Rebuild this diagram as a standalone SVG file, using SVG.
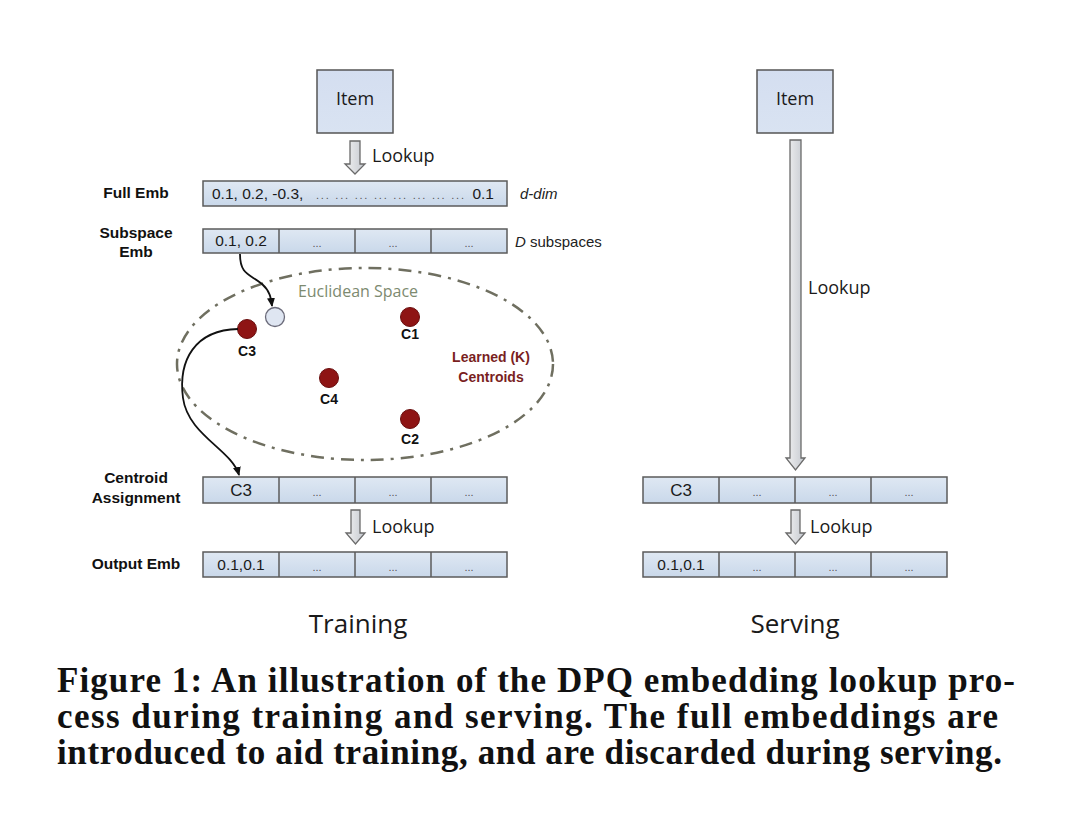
<svg xmlns="http://www.w3.org/2000/svg" width="1080" height="826" viewBox="0 0 1080 826">
<defs>
<linearGradient id="barG" x1="0" y1="0" x2="0" y2="1"><stop offset="0" stop-color="#dfe8f3"/><stop offset="1" stop-color="#c9d8ea"/></linearGradient>
<linearGradient id="itemG" x1="0" y1="0" x2="0" y2="1"><stop offset="0" stop-color="#d4def0"/><stop offset="1" stop-color="#d9e3f2"/></linearGradient>
<linearGradient id="arrG" x1="0" y1="0" x2="1" y2="0"><stop offset="0" stop-color="#f2f2f2"/><stop offset="1" stop-color="#c4c8cf"/></linearGradient>
<marker id="ah" markerWidth="10" markerHeight="10" refX="8" refY="5" orient="auto" markerUnits="userSpaceOnUse"><path d="M0,1 L9,5 L0,9 Z" fill="#111"/></marker>
<style>
.bar{fill:url(#barG);stroke:#5b5b5b;stroke-width:1.5}
.item{fill:url(#itemG);stroke:#555;stroke-width:1.5}
.blk{fill:url(#arrG);stroke:#6a6a6a;stroke-width:1.3}
.lbl{font-family:"Liberation Sans",Arial,sans-serif;font-weight:bold;font-size:15.5px;fill:#111;text-anchor:middle}
.val{font-family:"Liberation Sans",Arial,sans-serif;font-size:15.5px;fill:#1a1a1a}
.dots{font-family:"Liberation Sans",Arial,sans-serif;font-size:11px;fill:#555;text-anchor:middle}
.cal{font-family:"Open Sans","Liberation Sans",sans-serif;fill:#1a1a1a}
.cl{font-family:"Liberation Sans",Arial,sans-serif;font-weight:bold;font-size:14px;fill:#111;text-anchor:middle}
.dot{fill:#8e1414;stroke:#6a0e0e;stroke-width:1}
.cap{font-family:"Liberation Serif","Times New Roman",serif;font-weight:bold;font-size:35px;fill:#111}
</style>
</defs>
<rect width="1080" height="826" fill="#ffffff"/>

<!-- Training column -->
<g id="item-train">
<rect class="item" x="317" y="70" width="76" height="63"/>
<text class="cal" x="355" y="105" font-size="18" text-anchor="middle">Item</text>
</g>

<g id="full-emb">
<text class="lbl" x="136" y="198">Full Emb</text>
<rect class="bar" x="203" y="181" width="304" height="25"/>
<text class="val" x="212" y="199">0.1, 0.2, -0.3,</text>
<text class="dots" x="390" y="199" textLength="148" lengthAdjust="spacing">... ... ... ... ... ... ... ...</text>
<text class="val" x="494" y="199" text-anchor="end">0.1</text>
<text x="520" y="199" font-family="Liberation Sans, Arial, sans-serif" font-size="15" font-style="italic" fill="#222">d-dim</text>
</g>

<g id="subspace-emb">
<text class="lbl" x="136" y="238">Subspace</text>
<text class="lbl" x="136" y="257">Emb</text>
<rect class="bar" x="203" y="229" width="304" height="24"/>
<line x1="279" y1="229" x2="279" y2="253" stroke="#5b5b5b" stroke-width="1.5"/>
<line x1="355" y1="229" x2="355" y2="253" stroke="#5b5b5b" stroke-width="1.5"/>
<line x1="431" y1="229" x2="431" y2="253" stroke="#5b5b5b" stroke-width="1.5"/>
<text class="val" x="241" y="246" text-anchor="middle">0.1, 0.2</text>
<text class="dots" x="317" y="247">...</text>
<text class="dots" x="393" y="247">...</text>
<text class="dots" x="469" y="247">...</text>
<text x="515" y="247" font-family="Liberation Sans, Arial, sans-serif" font-size="15" fill="#222"><tspan font-style="italic">D</tspan> subspaces</text>
</g>

<g id="euclidean-space">
<ellipse cx="365" cy="364" rx="188" ry="96" fill="none" stroke="#6f6f60" stroke-width="2.5" stroke-dasharray="13 7 3 7"/>
<text class="cal" x="358" y="297" font-size="16" text-anchor="middle" style="fill:#7d8a70">Euclidean Space</text>
<circle cx="275" cy="317" r="9.5" fill="#dfe6f2" stroke="#6b6b7a" stroke-width="1.3"/>
<text x="491" y="362" font-family="Liberation Sans, Arial, sans-serif" font-weight="bold" font-size="14" fill="#7a1f1f" text-anchor="middle">Learned (K)</text>
<text x="491" y="382" font-family="Liberation Sans, Arial, sans-serif" font-weight="bold" font-size="14" fill="#7a1f1f" text-anchor="middle">Centroids</text>
</g>
<g id="c1"><circle class="dot" cx="410" cy="317" r="9.5"/><text class="cl" x="410" y="339">C1</text></g>
<g id="c2"><circle class="dot" cx="410" cy="419" r="9.5"/><text class="cl" x="410" y="444">C2</text></g>
<g id="c3"><circle class="dot" cx="247" cy="329" r="9.5"/><text class="cl" x="247" y="356">C3</text></g>
<g id="c4"><circle class="dot" cx="329" cy="378" r="9.5"/><text class="cl" x="329" y="404">C4</text></g>

<g id="centroid-assignment">
<text class="lbl" x="136" y="483">Centroid</text>
<text class="lbl" x="136" y="503">Assignment</text>
<rect class="bar" x="203" y="477" width="304" height="26"/>
<line x1="279" y1="477" x2="279" y2="503" stroke="#5b5b5b" stroke-width="1.5"/>
<line x1="355" y1="477" x2="355" y2="503" stroke="#5b5b5b" stroke-width="1.5"/>
<line x1="431" y1="477" x2="431" y2="503" stroke="#5b5b5b" stroke-width="1.5"/>
<text class="val" x="241" y="496" text-anchor="middle" style="font-size:17px">C3</text>
<text class="dots" x="317" y="496">...</text>
<text class="dots" x="393" y="496">...</text>
<text class="dots" x="469" y="496">...</text>
</g>

<g id="output-emb">
<text class="lbl" x="136" y="569">Output Emb</text>
<rect class="bar" x="203" y="552" width="304" height="25"/>
<line x1="279" y1="552" x2="279" y2="577" stroke="#5b5b5b" stroke-width="1.5"/>
<line x1="355" y1="552" x2="355" y2="577" stroke="#5b5b5b" stroke-width="1.5"/>
<line x1="431" y1="552" x2="431" y2="577" stroke="#5b5b5b" stroke-width="1.5"/>
<text class="val" x="241" y="570" text-anchor="middle">0.1,0.1</text>
<text class="dots" x="317" y="571">...</text>
<text class="dots" x="393" y="571">...</text>
<text class="dots" x="469" y="571">...</text>
</g>

<text class="cal" x="358" y="633" font-size="26" text-anchor="middle">Training</text>

<!-- Serving column -->
<g id="item-serve">
<rect class="item" x="757" y="70" width="76" height="63"/>
<text class="cal" x="795" y="105" font-size="18" text-anchor="middle">Item</text>
</g>

<g id="centroid-assignment-serve">
<rect class="bar" x="643" y="477" width="304" height="26"/>
<line x1="719" y1="477" x2="719" y2="503" stroke="#5b5b5b" stroke-width="1.5"/>
<line x1="795" y1="477" x2="795" y2="503" stroke="#5b5b5b" stroke-width="1.5"/>
<line x1="871" y1="477" x2="871" y2="503" stroke="#5b5b5b" stroke-width="1.5"/>
<text class="val" x="681" y="496" text-anchor="middle" style="font-size:17px">C3</text>
<text class="dots" x="757" y="496">...</text>
<text class="dots" x="833" y="496">...</text>
<text class="dots" x="909" y="496">...</text>
</g>

<g id="output-emb-serve">
<rect class="bar" x="643" y="552" width="304" height="25"/>
<line x1="719" y1="552" x2="719" y2="577" stroke="#5b5b5b" stroke-width="1.5"/>
<line x1="795" y1="552" x2="795" y2="577" stroke="#5b5b5b" stroke-width="1.5"/>
<line x1="871" y1="552" x2="871" y2="577" stroke="#5b5b5b" stroke-width="1.5"/>
<text class="val" x="681" y="570" text-anchor="middle">0.1,0.1</text>
<text class="dots" x="757" y="571">...</text>
<text class="dots" x="833" y="571">...</text>
<text class="dots" x="909" y="571">...</text>
</g>

<text class="cal" x="795" y="633" font-size="26" text-anchor="middle">Serving</text>

<!-- Connectors -->
<g id="connectors">
<path class="blk" d="M350,141 L360,141 L360,164 L365,164 L355,174 L345,164 L350,164 Z"/>
<text class="cal" x="372" y="162" font-size="18">Lookup</text>
<path class="blk" d="M351,510 L360,510 L360,533 L365,533 L355.5,544 L346,533 L351,533 Z"/>
<text class="cal" x="372" y="533" font-size="18">Lookup</text>
<path class="blk" d="M790,140 L801,140 L801,458 L805,458 L795.5,470 L786,458 L790,458 Z"/>
<text class="cal" x="808" y="294" font-size="18">Lookup</text>
<path class="blk" d="M791,510 L800,510 L800,533 L805,533 L795.5,544 L786,533 L791,533 Z"/>
<text class="cal" x="810" y="533" font-size="18">Lookup</text>
<path d="M240,254 C240,275 250,274 262,284 C270,291 271,298 272,306" fill="none" stroke="#111" stroke-width="1.8" marker-end="url(#ah)"/>
<path d="M238,329 C195,330 178,360 183,398 C188,435 232,450 239,475" fill="none" stroke="#111" stroke-width="1.8" marker-end="url(#ah)"/>
</g>

<!-- Caption -->
<g id="caption">
<text class="cap" x="57" y="692" textLength="958" lengthAdjust="spacing">Figure 1: An illustration of the DPQ embedding lookup pro-</text>
<text class="cap" x="57" y="728" textLength="941" lengthAdjust="spacing">cess during training and serving. The full embeddings are</text>
<text class="cap" x="57" y="764" textLength="945" lengthAdjust="spacing">introduced to aid training, and are discarded during serving.</text>
</g>
</svg>
